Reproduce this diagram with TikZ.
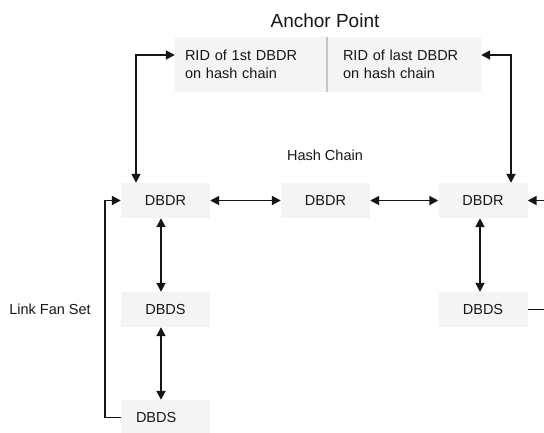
\documentclass[tikz,border=0pt]{standalone}
\usepackage{fontspec}
\setmainfont{Liberation Sans}
\usetikzlibrary{arrows.meta}
\definecolor{boxgray}{HTML}{F4F4F4}
\definecolor{divgray}{HTML}{C6C6C6}
\definecolor{ink}{HTML}{161616}
\begin{document}
\begin{tikzpicture}[x=1pt,y=1pt,
  font=\fontsize{14.5}{18}\selectfont,
  every node/.style={text=ink},
  box/.style={fill=boxgray,draw=none,minimum width=89,minimum height=35,inner sep=0},
  cell/.style={fill=boxgray,draw=none,minimum height=55,inner sep=0,align=left},
  conn/.style={draw=ink,line width=1.8pt,arrows={-Triangle[length=9pt,width=9pt]}},
  biconn/.style={draw=ink,line width=1.8pt,arrows={Triangle[length=9pt,width=9pt]-Triangle[length=9pt,width=9pt]}},
  plain/.style={draw=ink,line width=1.8pt}
]
\useasboundingbox (0,0) rectangle (544,-432);
% title labels
\node (title) at (325,-21) {\fontsize{19}{22}\selectfont Anchor Point};
\node (hash) at (325,-155) {Hash Chain};
\node (lfs) at (50,-309) {Link Fan Set};
% anchor point cells
\node[cell,minimum width=152,text width=132] (a1) at (251,-64.5) {RID of 1st DBDR\\on hash chain};
\node[cell,minimum width=154,text width=122] (a2) at (404,-64.5) {RID of last DBDR\\on hash chain};
\draw[divgray,line width=1.5pt] (a1.north east) -- (a1.south east);
% DBDR row
\node[box] (d1) at (165.5,-200.5) {DBDR};
\node[box] (d2) at (325.5,-200.5) {DBDR};
\node[box] (d3) at (483,-200.5) {DBDR};
% DBDS
\node[box] (s1) at (165.5,-309.5) {DBDS};
\node[box] (s3) at (483,-309.5) {DBDS};
\node[box,text width=59,align=left] (s1b) at (165.5,-417.5) {DBDS};
% free ends
\coordinate (rin) at (544,-200.5);
\coordinate (rout) at (544,-309.5);
% connectors
\draw[biconn] ([yshift=9.5]a1.west) -| ([xshift=-29.5]d1.north);
\draw[biconn] ([yshift=9.5]a2.east) -| ([xshift=28]d3.north);
\draw[biconn] (d1.east) -- (d2.west);
\draw[biconn] (d2.east) -- (d3.west);
\draw[conn] (rin) -- (d3.east);
\draw[biconn] ([xshift=-4.5]d1.south) -- ([xshift=-4.5]s1.north);
\draw[biconn] ([xshift=-4.5]s1.south) -- ([xshift=-4.5]s1b.north);
\draw[biconn] ([xshift=-3]d3.south) -- ([xshift=-3]s3.north);
\draw[plain] (s3.east) -- (rout);
\draw[conn] (s1b.west) -- ++(-16,0) |- (d1.west);
\end{tikzpicture}
\end{document}
